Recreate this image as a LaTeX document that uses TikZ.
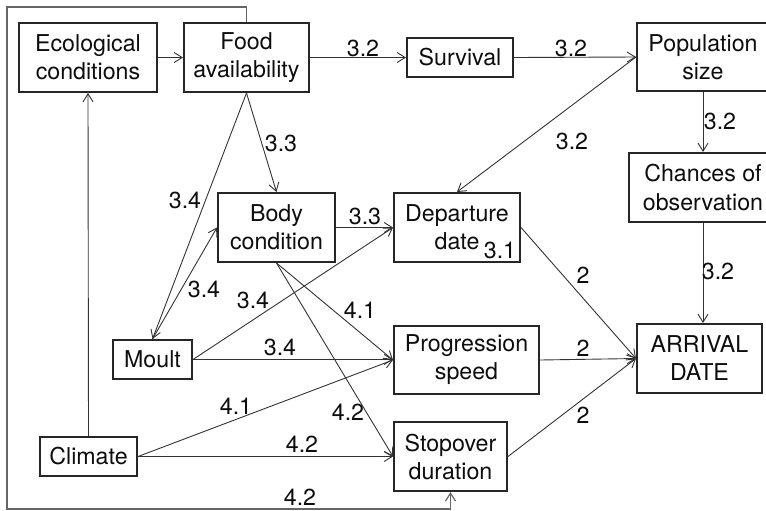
\documentclass[tikz,border=0pt]{standalone}
\usepackage{fontspec}
\setmainfont{TeX Gyre Heros}
\usetikzlibrary{arrows.meta,positioning,calc}

\begin{document}
\begin{tikzpicture}[x=0.5pt,y=-0.5pt,font=\fontsize{11.6}{14}\selectfont,>={Straight Barb[length=4pt,width=5pt]},
  box/.style={draw=black!85,line width=1pt,align=center,inner sep=0pt,text=black!95},
  lnk/.style={->,draw=black!80,line width=0.45pt},
  lbl/.style={inner sep=0pt,text=black!95}]
  \useasboundingbox (0,0) rectangle (766,510);
  % boxes
  \node[box,minimum width=69pt,minimum height=34.5pt] (eco) at (88,57.5) {Ecological\\conditions};
  \node[box,minimum width=62.5pt,minimum height=34.5pt] (food) at (246.5,57.5) {Food\\availability};
  \node[box,minimum width=53pt,minimum height=19.5pt] (surv) at (460,57.5) {Survival};
  \node[box,minimum width=66pt,minimum height=34pt] (pop) at (703,57) {Population\\size};
  \node[box,minimum width=74pt,minimum height=34.5pt] (chan) at (703,187.5) {Chances of\\observation};
  \node[box,minimum width=58.5pt,minimum height=34.5pt] (body) at (276.5,227.5) {Body\\condition};
  \node[box,minimum width=63pt,minimum height=34.5pt] (dep) at (457,227.5) {Departure\\date};
  \node[box,minimum width=39.5pt,minimum height=19.5pt] (moult) at (152.5,359.5) {Moult};
  \node[box,minimum width=72.5pt,minimum height=34pt] (prog) at (466.5,360) {Progression\\speed};
  \node[box,minimum width=62.5pt,minimum height=34.5pt] (arr) at (699.5,358.5) {ARRIVAL\\DATE};
  \node[box,minimum width=48.5pt,minimum height=19.5pt] (clim) at (88.5,456.5) {Climate};
  \node[box,minimum width=56.5pt,minimum height=34.5pt] (stop) at (450.5,456.5) {Stopover\\duration};
  % links
  \draw[lnk] (eco.east) -- (food.west);
  \draw[lnk] (food.east) -- (surv.west);
  \draw[lnk] (surv.east) -- (pop.west);
  \draw[lnk] (pop.west) -- (dep.north);
  \draw[lnk] (pop.south) -- (chan.north);
  \draw[lnk] (chan.south) -- (chan.south |- arr.north);
  \draw[lnk] (food.south) -- (body.north);
  \draw[lnk] (food.south) -- (moult.north);
  \draw[lnk] (moult.north) -- (body.west);
  \draw[lnk] (moult.east) -- (dep.west);
  \draw[lnk] (moult.east) -- (moult.east -| prog.west);
  \draw[lnk] (body.east) -- (dep.west);
  \draw[lnk] (body.south) -- (prog.west);
  \draw[lnk] (body.south) -- (stop.west);
  \draw[lnk] (clim.north) -- (eco.south);
  \draw[lnk] (clim.east) -- (prog.west);
  \draw[lnk] (clim.east) -- (stop.west);
  \foreach \n in {dep,prog,stop} \draw[lnk] (\n.east) -- (arr.west);
  \coordinate (fr) at (7,509);
  \draw[lnk,draw=black!60,line width=0.6pt] (food.north) -- ++(0,-15) -| (fr) -| (stop.south);
  % labels
  \foreach \t/\x/\y [count=\i] in {3.2/363/48, 3.2/571/48, 3.2/572/141, 3.2/720/121, 3.2/718/271,
      3.3/281/143, 3.4/185/200, 3.3/365/216, 3.1/500/250, 3.4/204/289, 3.4/253/300, 3.4/280/347,
      4.1/360/310, 4.2/348/412, 4.1/236/406, 4.2/302/444, 4.2/300/497, 2/583/275, 2/583/348, 2/583/415}
    \node[lbl] (l\i) at (\x,\y) {\t};
\end{tikzpicture}
\end{document}
